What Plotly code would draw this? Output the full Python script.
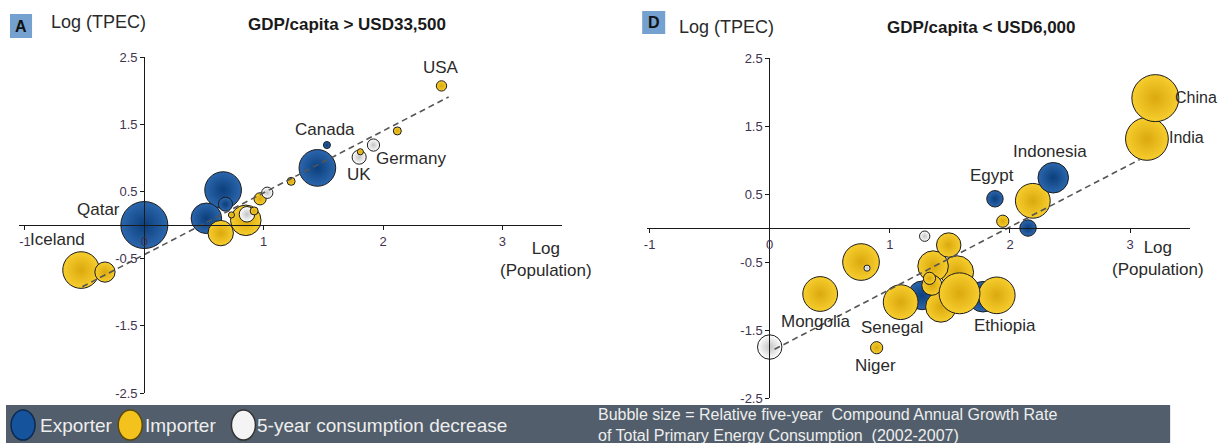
import plotly.graph_objects as go

W, H = 1218, 443

# ---------------- Panel A : GDP/capita > USD33,500 ----------------
a_name = ["Qatar", "Iceland", "", "", "", "", "", "", "", "", "", "", "", "",
          "", "Canada", "UK", "", "Germany", "", "USA"]
a_logpop = [0.00, -0.53, -0.33, 0.66, 0.52, 0.68, 0.64, 0.85, 0.86, 0.92, 0.73,
            0.97, 1.03, 1.23, 1.45, 1.53, 1.80, 1.81, 1.92, 2.12, 2.49]
a_logtpec = [0.00, -0.67, -0.70, 0.52, 0.10, 0.31, -0.12, 0.07, 0.16, 0.21, 0.15,
             0.39, 0.48, 0.65, 0.85, 1.19, 1.01, 1.09, 1.19, 1.40, 2.07]
a_growth = [10.0, 7.8, 4.3, 7.8, 6.5, 3.0, 5.4, 6.5, 3.3, 1.7, 1.3,
            2.6, 2.4, 1.7, 7.8, 1.5, 3.0, 1.3, 2.6, 1.7, 2.2]
a_type = ["Exporter", "Importer", "Importer", "Exporter", "Exporter", "Exporter",
          "Importer", "Importer", "Decrease", "Importer", "Importer", "Importer",
          "Decrease", "Importer", "Exporter", "Exporter", "Decrease", "Importer",
          "Decrease", "Importer", "Importer"]
a_trend_x = [-0.52, 2.55]
a_trend_slope, a_trend_icpt = 0.92, -0.44

# ---------------- Panel D : GDP/capita < USD6,000 ----------------
d_name = ["", "", "Mongolia", "", "", "", "", "", "", "", "Ethiopia", "",
          "Senegal", "", "", "", "Niger", "Egypt", "", "", "", "Indonesia",
          "India", "China"]
d_logpop = [0.00, 0.76, 0.42, 0.81, 1.29, 1.27, 1.775, 1.56, 1.36, 1.49, 1.89,
            1.425, 1.09, 1.35, 1.33, 1.58, 0.89, 1.875, 2.19, 1.94, 2.15, 2.36,
            3.14, 3.21]
d_logtpec = [-1.75, -0.50, -0.97, -0.59, -0.12, -0.99, -1.01, -0.65, -0.56, -0.25,
             -0.99, -1.16, -1.09, -0.84, -0.74, -0.96, -1.76, 0.43, 0.40, 0.10,
             0.00, 0.74, 1.31, 1.91]
d_growth = [5.2, 7.8, 7.4, 1.3, 2.2, 6.1, 6.5, 7.0, 6.5, 5.2, 7.8,
            6.5, 7.4, 4.3, 2.6, 8.7, 2.6, 3.5, 7.4, 2.6, 3.5, 6.5, 9.1, 10.0]
d_type = ["Decrease", "Importer", "Importer", "Decrease", "Decrease", "Exporter",
          "Exporter", "Importer", "Importer", "Importer", "Importer", "Importer",
          "Importer", "Importer", "Importer", "Importer", "Importer", "Exporter",
          "Importer", "Importer", "Exporter", "Exporter", "Importer", "Importer"]
d_trend_x = [0.04, 3.08]
d_trend_slope, d_trend_icpt = 0.918, -1.82

x_ticks = [-1, 0, 1, 2, 3]
x_ticktext = ["-1", "0", "1", "2", "3"]
y_ticks = [2.5, 1.5, 0.5, -0.5, -1.5, -2.5]
y_ticktext = ["2.5", "1.5", "0.5", "-0.5", "-1.5", "-2.5"]

# ---------------- styles ----------------
FONT = "Liberation Sans, Arial, sans-serif"
FILL = {"Exporter": "#2b66ad", "Importer": "#f7cd2e", "Decrease": "#ffffff"}
EDGE = {"Exporter": "#0c3f7c", "Importer": "#dba90d", "Decrease": "#c4c4c4"}
SIZE_PX = 4.7  # px of diameter per unit of relative growth
TICKCOL = "#3f3350"

# layout helpers: target pixel position -> paper fraction
X_OFF, X_SC = 5.0, 0.9957
Y_OFF, Y_SC = 7.0, 0.966


def fx(px):
    return ((px - X_OFF) / X_SC) / W


def fy(py):
    return 1 - ((py - Y_OFF) / Y_SC) / H


fig = go.Figure()


def add_panel(xa, ya, xs, ys, gs, ts, tx, slope, icpt):
    fig.add_trace(go.Scatter(
        x=xs, y=ys, mode="markers", xaxis=xa, yaxis=ya, cliponaxis=False,
        showlegend=False, hoverinfo="skip",
        marker=dict(size=[g * SIZE_PX for g in gs], sizemode="diameter",
                    color=[FILL[t] for t in ts], opacity=1,
                    gradient=dict(type="radial", color=[EDGE[t] for t in ts]),
                    line=dict(color="#1c1c1c", width=1))))
    fig.add_trace(go.Scatter(
        x=tx, y=[slope * v + icpt for v in tx], mode="lines", xaxis=xa, yaxis=ya,
        cliponaxis=False, showlegend=False, hoverinfo="skip",
        line=dict(color="#555555", width=1.6, dash="6px,4px")))


add_panel("x", "y", a_logpop, a_logtpec, a_growth, a_type, a_trend_x,
          a_trend_slope, a_trend_icpt)
add_panel("x2", "y2", d_logpop, d_logtpec, d_growth, d_type, d_trend_x,
          d_trend_slope, d_trend_icpt)

axis_common = dict(showgrid=False, zeroline=False, showline=True,
                   linecolor="#1a1a1a", linewidth=1.2, ticks="outside",
                   ticklen=4, tickcolor="#1a1a1a",
                   tickfont=dict(family=FONT, size=13, color=TICKCOL))

fig.update_layout(
    xaxis=dict(axis_common, domain=[fx(21), fx(563)], range=[-1.05, 3.5],
               tickvals=x_ticks, ticktext=x_ticktext, anchor="free",
               position=fy(225)),
    yaxis=dict(axis_common, domain=[fy(393), fy(57)], range=[-2.5, 2.5],
               tickvals=y_ticks, ticktext=y_ticktext, anchor="free",
               position=fx(146)),
    xaxis2=dict(axis_common, domain=[fx(648), fx(1190)], range=[-1.02, 3.5],
                tickvals=x_ticks, ticktext=x_ticktext, anchor="free",
                position=fy(228)),
    yaxis2=dict(axis_common, domain=[fy(398), fy(58)], range=[-2.5, 2.5],
                tickvals=y_ticks, ticktext=y_ticktext, anchor="free",
                position=fx(770)),
)

ann = []
shapes = []

# point labels: (name -> (xshift, yshift, xanchor))
label_off = {
    "USA": (0, 18, "center"), "Canada": (-2, 16, "center"),
    "Germany": (38, -13, "center"), "UK": (0, -17, "center"),
    "Qatar": (-46, 16, "center"), "Iceland": (-24, 31, "center"),
    "China": (18, 1, "left"), "India": (20, 1, "left"),
    "Indonesia": (-3, 26, "center"), "Egypt": (-3, 23, "center"),
    "Mongolia": (-4, -28, "center"), "Senegal": (-9, -25, "center"),
    "Ethiopia": (8, -30, "center"), "Niger": (-1, -18, "center"),
}
for xa, ya, names, xs, ys in (("x", "y", a_name, a_logpop, a_logtpec),
                              ("x2", "y2", d_name, d_logpop, d_logtpec)):
    for n, xv, yv in zip(names, xs, ys):
        if not n:
            continue
        dx, dy, anc = label_off[n]
        ann.append(dict(x=xv, y=yv, xref=xa, yref=ya, text=n, showarrow=False,
                        xanchor=anc, yanchor="middle", xshift=dx, yshift=dy,
                        font=dict(family=FONT, size=16 if n in ("China", "India") else 17,
                                  color="#2a2a2a")))

# axis titles and panel titles
for cx, cy, txt in ((100, 22, "Log (TPEC)"), (727, 27, "Log (TPEC)")):
    ann.append(dict(x=fx(cx), y=fy(cy), xref="paper", yref="paper", text=txt,
                    showarrow=False, xanchor="center", yanchor="middle",
                    font=dict(family=FONT, size=18, color="#2a2a2a")))
for cx, cy in ((547, 259), (1158, 258)):
    ann.append(dict(x=fx(cx), y=fy(cy), xref="paper", yref="paper",
                    text="Log<br>(Population)", showarrow=False, align="center",
                    xanchor="center", yanchor="middle",
                    font=dict(family=FONT, size=17, color="#2a2a2a")))
for cx, cy, txt in ((348, 24, "GDP/capita > USD33,500"),
                    (982, 27, "GDP/capita < USD6,000")):
    ann.append(dict(x=fx(cx), y=fy(cy), xref="paper", yref="paper",
                    text="<b>" + txt + "</b>", showarrow=False,
                    xanchor="center", yanchor="middle",
                    font=dict(family=FONT, size=17, color="#1a1a1a")))

# panel letter boxes
for x0, y0, x1, y1, letter in ((12, 14, 34, 38, "A"), (643, 11, 666, 34, "D")):
    shapes.append(dict(type="rect", xref="paper", yref="paper",
                       x0=fx(x0), x1=fx(x1), y0=fy(y1), y1=fy(y0),
                       fillcolor="#74a1cf", line=dict(width=0), layer="below"))
    ann.append(dict(x=fx((x0 + x1) / 2), y=fy((y0 + y1) / 2), xref="paper",
                    yref="paper", text="<b>" + letter + "</b>", showarrow=False,
                    xanchor="center", yanchor="middle",
                    font=dict(family=FONT, size=16, color="#111111")))

# bottom legend bar (runs off the bottom edge, as in the reference)
shapes.append(dict(type="rect", xref="paper", yref="paper",
                   x0=fx(8), x1=fx(1170), y0=fy(470), y1=fy(405),
                   fillcolor="#525e6b", line=dict(width=0), layer="above"))
for cx, col, edge, tx_x, txt in ((25, "#15549c", "#0b2a52", 40, "Exporter"),
                                 (132, "#f3c21c", "#5a4a10", 145, "Importer"),
                                 (245, "#f4f4f4", "#333333", 257,
                                  "5-year consumption decrease")):
    shapes.append(dict(type="circle", xref="paper", yref="paper",
                       x0=fx(cx - 12), x1=fx(cx + 12), y0=fy(440), y1=fy(410),
                       fillcolor=col, line=dict(color=edge, width=1.5),
                       layer="above"))
    ann.append(dict(x=fx(tx_x), y=fy(425), xref="paper", yref="paper",
                    text=txt, showarrow=False, xanchor="left", yanchor="middle",
                    font=dict(family=FONT, size=19, color="#eeeeee")))
ann.append(dict(x=fx(597), y=fy(414), xref="paper", yref="paper",
                text="Bubble size = Relative five-year  Compound Annual Growth Rate",
                showarrow=False, xanchor="left", yanchor="middle",
                font=dict(family=FONT, size=16, color="#eeeeee")))
ann.append(dict(x=fx(597), y=fy(435), xref="paper", yref="paper",
                text="of Total Primary Energy Consumption  (2002-2007)",
                showarrow=False, xanchor="left", yanchor="middle",
                font=dict(family=FONT, size=16, color="#eeeeee")))

fig.update_layout(autosize=True, margin=dict(l=0, r=0, t=0, b=0),
                  paper_bgcolor="white", plot_bgcolor="white",
                  annotations=ann, shapes=shapes, showlegend=False)

fig.write_html("out.html",
               config={"displayModeBar": False, "responsive": True},
               default_width="100vw", default_height="100vh",
               post_script=(
                   "document.documentElement.style.overflow='hidden';"
                   "document.body.style.margin='0';"
                   "document.body.style.overflow='hidden';"
                   "var g=document.getElementsByClassName('plotly-graph-div')[0];"
                   "g.style.position='fixed';g.style.left='0';g.style.top='0';"))
